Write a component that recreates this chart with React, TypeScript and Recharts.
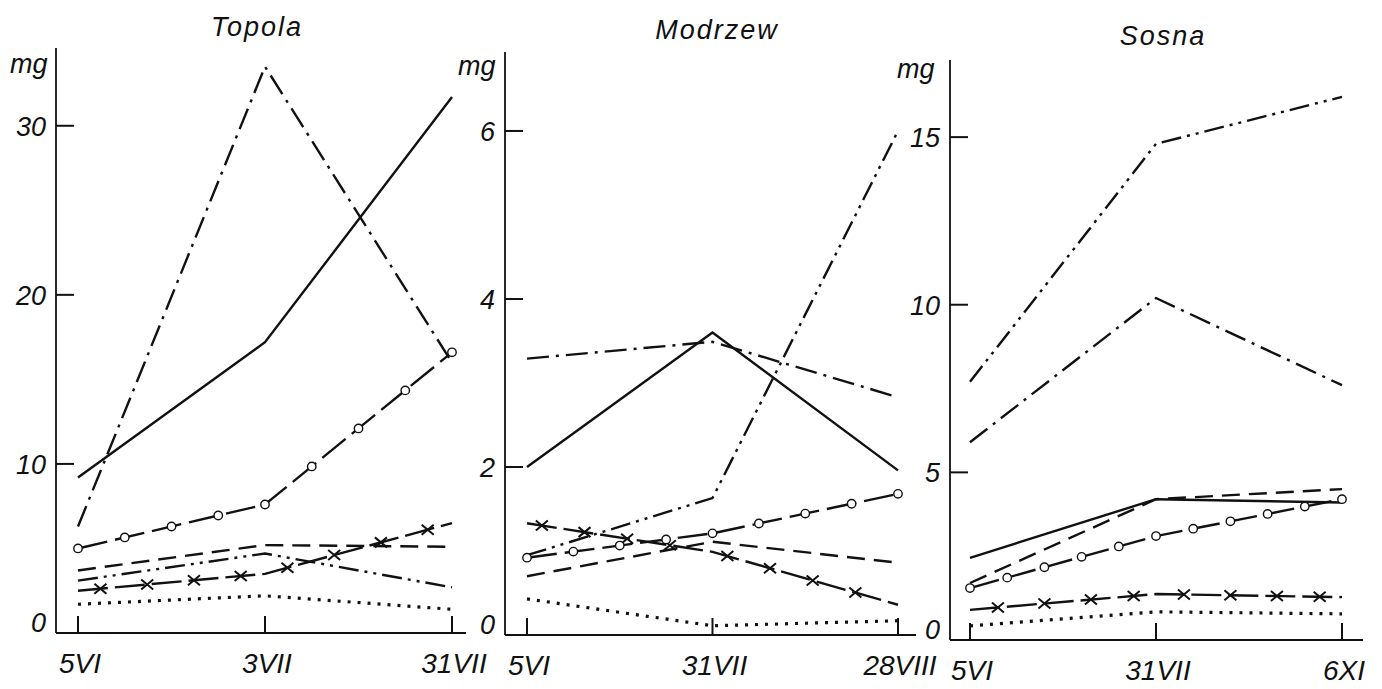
import React from "react";
import { LineChart, Line, XAxis, YAxis } from "recharts";

// sampling dates
const topolaDates = ["5VI", "3VII", "31VII"];
const modrzewDates = ["5VI", "31VII", "28VIII"];
const sosnaDates = ["5VI", "31VII", "6XI"];

// Topola (mg)
const topolaSolid = [9.2, 17.2, 31.7];
const topolaDashDot = [6.3, 33.5, 16.0];
const topolaDashDotDot = [3.1, 4.7, 2.7];
const topolaDashed = [3.7, 5.2, 5.1];
const topolaCircles = [5.0, 7.6, 16.6];
const topolaCrosses = [2.5, 3.5, 6.5];
const topolaDotted = [1.7, 2.2, 1.4];

// Modrzew (mg)
const modrzewSolid = [2.0, 3.6, 1.96];
const modrzewDashDot = [3.29, 3.49, 2.83];
const modrzewDashDotDot = [0.95, 1.63, 6.0];
const modrzewDashed = [0.7, 1.11, 0.86];
const modrzewCircles = [0.92, 1.21, 1.68];
const modrzewCrosses = [1.33, 0.99, 0.36];
const modrzewDotted = [0.43, 0.11, 0.17];

// Sosna (mg)
const sosnaSolid = [2.45, 4.2, 4.1];
const sosnaDashDot = [5.9, 10.2, 7.6];
const sosnaDashDotDot = [7.7, 14.8, 16.2];
const sosnaDashed = [1.7, 4.2, 4.5];
const sosnaCircles = [1.55, 3.1, 4.2];
const sosnaCrosses = [0.9, 1.37, 1.28];
const sosnaDotted = [0.42, 0.84, 0.78];

const topolaTicks = [0, 10, 20, 30];
const modrzewTicks = [0, 2, 4, 6];
const sosnaTicks = [0, 5, 10, 15];

const FONT = "'Liberation Sans', Arial, sans-serif";
const INK = "#111";

function buildRows(dates: string[], s: number[][]) {
  return dates.map((d, i) => ({
    date: d,
    solid: s[0][i],
    dashDot: s[1][i],
    dashDotDot: s[2][i],
    dashed: s[3][i],
    circles: s[4][i],
    crosses: s[5][i],
    dotted: s[6][i],
  }));
}

// markers drawn along each segment of a line, at fractions of the segment
function markerDot(kind: "circle" | "cross", fracs: number[]) {
  return (props: any) => {
    const { cx, cy, index, points } = props;
    const next = points ? points[index + 1] : null;
    const spots: number[][] = [];
    if (next) {
      fracs.forEach((f) => spots.push([cx + (next.x - cx) * f, cy + (next.y - cy) * f]));
    } else if (kind === "circle") {
      spots.push([cx, cy]);
    }
    return (
      <g key={`mk-${kind}-${index}`}>
        {spots.map(([x, y], i) =>
          kind === "circle" ? (
            <circle key={i} cx={x} cy={y} r={4.2} fill="#fff" stroke={INK} strokeWidth={1.4} />
          ) : (
            <path
              key={i}
              d={`M${x - 6},${y - 5}L${x + 6},${y + 5}M${x - 6},${y + 5}L${x + 6},${y - 5}`}
              stroke={INK}
              strokeWidth={2}
              fill="none"
            />
          )
        )}
      </g>
    );
  };
}

const YTick = (props: any) => {
  const { x, y, payload } = props;
  // the zero label sits on the axis, the others are centred on their tick
  const base = payload.value === 0 ? y - 1 : y + 10;
  return (
    <g>
      {payload.value !== 0 && <line x1={x} x2={x + 18} y1={y} y2={y} stroke={INK} strokeWidth={2} />}
      <text x={x - 10} y={base} textAnchor="end" fontFamily={FONT} fontStyle="italic" fontSize={27} fill={INK}>
        {payload.value}
      </text>
    </g>
  );
};

const XTick = (props: any) => {
  const { x, y, payload } = props;
  return (
    <g>
      <line x1={x} x2={x} y1={y} y2={y - 17} stroke={INK} strokeWidth={2} />
      <text x={x + 2} y={y + 40} textAnchor="middle" fontFamily={FONT} fontStyle="italic" fontSize={28} fill={INK}>
        {payload.value}
      </text>
    </g>
  );
};

interface PanelProps {
  data: any[];
  left: number;
  width: number;
  axisX: number;
  axisTop: number;
  axisY: number;
  yMax: number;
  ticks: number[];
  padLeft: number;
  padRight: number;
  circleFracs: number[];
  crossFracs: number[];
}

function Panel(p: PanelProps) {
  const sw = 2.4;
  return (
    <div style={{ position: "absolute", left: p.left, top: 0 }}>
      <LineChart
        width={p.width}
        height={689}
        data={p.data}
        margin={{ top: p.axisTop, right: 0, left: 0, bottom: 0 }}
      >
        <XAxis
          dataKey="date"
          height={689 - p.axisY}
          padding={{ left: p.padLeft, right: p.padRight }}
          axisLine={{ stroke: INK, strokeWidth: 2.2 }}
          tickLine={false}
          tickSize={0}
          tickMargin={0}
          tick={<XTick />}
          interval={0}
        />
        <YAxis
          type="number"
          domain={[0, p.yMax]}
          ticks={p.ticks}
          width={p.axisX - p.left}
          allowDataOverflow
          axisLine={{ stroke: INK, strokeWidth: 1.8 }}
          tickLine={false}
          tickSize={0}
          tickMargin={0}
          tick={<YTick />}
          interval={0}
        />
        <Line dataKey="dotted" stroke={INK} strokeWidth={3.2} strokeDasharray="3 7" dot={false} activeDot={false} isAnimationActive={false} />
        <Line dataKey="crosses" stroke={INK} strokeWidth={sw} strokeDasharray="30 7" dot={markerDot("cross", p.crossFracs)} activeDot={false} isAnimationActive={false} />
        <Line dataKey="circles" stroke={INK} strokeWidth={sw} strokeDasharray="30 8" dot={markerDot("circle", p.circleFracs)} activeDot={false} isAnimationActive={false} />
        <Line dataKey="dashed" stroke={INK} strokeWidth={sw} strokeDasharray="18 9" dot={false} activeDot={false} isAnimationActive={false} />
        <Line dataKey="dashDotDot" stroke={INK} strokeWidth={sw} strokeDasharray="20 6 3 6 3 6" dot={false} activeDot={false} isAnimationActive={false} />
        <Line dataKey="dashDot" stroke={INK} strokeWidth={sw} strokeDasharray="22 7 3 7" dot={false} activeDot={false} isAnimationActive={false} />
        <Line dataKey="solid" stroke={INK} strokeWidth={sw} dot={false} activeDot={false} isAnimationActive={false} />
      </LineChart>
    </div>
  );
}

const topolaRows = buildRows(topolaDates, [topolaSolid, topolaDashDot, topolaDashDotDot, topolaDashed, topolaCircles, topolaCrosses, topolaDotted]);
const modrzewRows = buildRows(modrzewDates, [modrzewSolid, modrzewDashDot, modrzewDashDotDot, modrzewDashed, modrzewCircles, modrzewCrosses, modrzewDotted]);
const sosnaRows = buildRows(sosnaDates, [sosnaSolid, sosnaDashDot, sosnaDashDotDot, sosnaDashed, sosnaCircles, sosnaCrosses, sosnaDotted]);

const labelStyle = { fontFamily: FONT, fontStyle: "italic" as const, fill: INK };

export default function App() {
  return (
    <div style={{ position: "absolute", left: 0, top: 0, width: 1382, height: 689, background: "#fff", overflow: "hidden" }}>
      <style>{`.recharts-surface{overflow:visible}`}</style>
      <Panel data={topolaRows} left={0} width={466} axisX={56} axisTop={48} axisY={633} yMax={34.6} ticks={topolaTicks} padLeft={22} padRight={14} circleFracs={[0, 0.25, 0.5, 0.75]} crossFracs={[0.12, 0.37, 0.62, 0.87]} />
      <Panel data={modrzewRows} left={462} width={454} axisX={505} axisTop={52} axisY={635} yMax={6.94} ticks={modrzewTicks} padLeft={22} padRight={18} circleFracs={[0, 0.25, 0.5, 0.75]} crossFracs={[0.08, 0.31, 0.54, 0.77]} />
      <Panel data={sosnaRows} left={912} width={451} axisX={950} axisTop={60} axisY={640} yMax={17.3} ticks={sosnaTicks} padLeft={20} padRight={21} circleFracs={[0, 0.2, 0.4, 0.6, 0.8]} crossFracs={[0.15, 0.4, 0.65, 0.88]} />
      <svg width={1382} height={689} style={{ position: "absolute", left: 0, top: 0, pointerEvents: "none" }}>
        <text x={257} y={36} textAnchor="middle" fontSize={27} letterSpacing={2} {...labelStyle}>Topola</text>
        <text x={717} y={39} textAnchor="middle" fontSize={27} letterSpacing={2} {...labelStyle}>Modrzew</text>
        <text x={1163} y={45} textAnchor="middle" fontSize={27} letterSpacing={2} {...labelStyle}>Sosna</text>
        <text x={10} y={73} fontSize={27} {...labelStyle}>mg</text>
        <text x={458} y={75} fontSize={27} {...labelStyle}>mg</text>
        <text x={897} y={78} fontSize={27} {...labelStyle}>mg</text>
      </svg>
    </div>
  );
}
